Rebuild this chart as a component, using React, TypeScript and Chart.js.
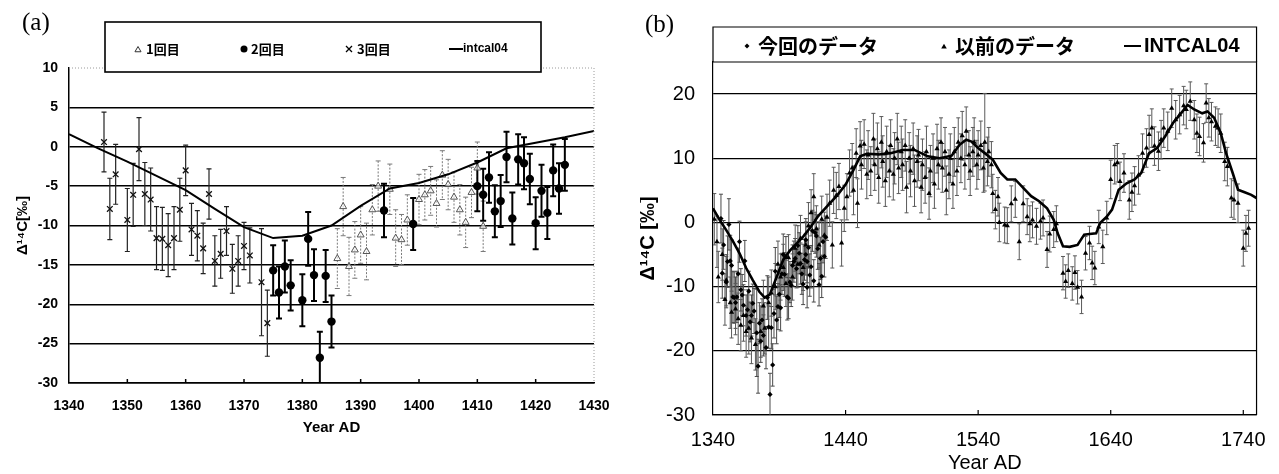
import React, { useEffect, useRef } from "react";
import { Chart, registerables } from "chart.js";

Chart.register(...registerables);

// ---------------- Panel (a) data ----------------
// 1回目 (open triangles)
const yearsA1 = [1386, 1387, 1388, 1389, 1390, 1391, 1392, 1393, 1395, 1396, 1397, 1398, 1400, 1401, 1402, 1403, 1404, 1405, 1406, 1407, 1408, 1409, 1410, 1411];
const valuesA1 = [-14.2, -7.6, -15.2, -13.1, -11.2, -13.3, -8.0, -5.0, -5.4, -11.6, -11.8, -9.3, -6.7, -6.1, -5.6, -7.2, -3.6, -4.8, -6.4, -8.0, -9.6, -5.8, -2.7, -10.1];
const errorsA1 = [3.8, 3.7, 3.7, 3.6, 3.6, 3.6, 3.2, 3.2, 3.2, 3.6, 3.2, 3.2, 3.2, 3.2, 3.1, 3.0, 3.1, 3.2, 3.2, 3.2, 3.2, 3.2, 3.3, 3.2];

// 2回目 (filled circles)
const yearsA2 = [1375, 1376, 1377, 1378, 1380, 1381, 1382, 1383, 1384, 1385, 1394, 1399, 1410, 1411, 1412, 1413, 1414, 1415, 1416, 1417, 1418, 1419, 1420, 1421, 1422, 1423, 1424, 1425];
const valuesA2 = [-15.7, -18.5, -15.2, -17.6, -19.5, -11.7, -16.3, -26.8, -16.4, -22.2, -8.1, -9.8, -5.0, -6.1, -3.9, -8.2, -6.9, -1.3, -9.1, -1.6, -2.1, -4.1, -9.7, -5.6, -8.4, -3.0, -5.3, -2.3];
const errorsA2 = [3.2, 3.3, 3.3, 3.2, 3.3, 3.4, 3.3, 3.3, 3.3, 3.3, 3.4, 3.3, 3.2, 3.3, 3.2, 3.3, 3.3, 3.2, 3.3, 3.2, 3.3, 3.2, 3.3, 3.3, 3.3, 3.3, 3.2, 3.3];

// 3回目 (crosses)
const yearsA3 = [1346, 1347, 1348, 1350, 1351, 1352, 1353, 1354, 1355, 1356, 1357, 1358, 1359, 1360, 1361, 1362, 1363, 1364, 1365, 1366, 1367, 1368, 1369, 1370, 1371, 1373, 1374];
const valuesA3 = [0.6, -7.9, -3.5, -9.3, -6.1, -0.3, -6.0, -6.7, -11.6, -11.7, -12.5, -11.6, -8.0, -3.0, -10.5, -11.3, -12.9, -6.0, -14.5, -13.6, -10.7, -15.5, -14.5, -12.6, -13.8, -17.2, -22.4];
const errorsA3 = [3.8, 3.9, 3.8, 4.0, 4.0, 4.0, 4.0, 4.0, 4.0, 4.0, 4.0, 4.0, 4.0, 3.2, 3.3, 3.2, 3.2, 3.2, 3.2, 3.1, 3.1, 3.1, 3.2, 3.0, 3.5, 6.8, 4.2];

// intcal04 (a)
const intcalYearsA = [1340, 1345, 1350, 1355, 1360, 1365, 1370, 1375, 1380, 1385, 1390, 1395, 1400, 1405, 1410, 1415, 1420, 1425, 1430];
const intcalValuesA = [1.6, -0.2, -1.9, -3.7, -5.5, -7.9, -10.2, -11.6, -11.3, -10.0, -7.5, -5.3, -4.6, -3.5, -2.0, -0.2, 0.5, 1.2, 2.0];

const xTicksA = [1340, 1350, 1360, 1370, 1380, 1390, 1400, 1410, 1420, 1430];
const yTicksA = [-30, -25, -20, -15, -10, -5, 0, 5, 10];

// ---------------- Panel (b) data ----------------
const prevYearsB = [
  1341, 1343, 1344, 1347, 1349, 1350, 1353, 1354, 1357, 1359,
  1361, 1363, 1365, 1367, 1369, 1372, 1376, 1378, 1379, 1382,
  1384, 1387, 1389, 1391, 1393, 1395, 1397, 1400, 1402, 1404,
  1406, 1408, 1410, 1412, 1414, 1416, 1418, 1420, 1422, 1424,
  1426, 1428, 1430, 1431, 1433, 1435, 1437, 1439, 1441, 1443,
  1445, 1446, 1448, 1449, 1451, 1452, 1454, 1456, 1457, 1459,
  1461, 1462, 1464, 1465, 1467, 1468, 1470, 1471, 1473, 1474,
  1476, 1477, 1479, 1480, 1482, 1483, 1485, 1486, 1488, 1489,
  1491, 1492, 1494, 1495, 1497, 1498, 1500, 1501, 1503, 1504,
  1506, 1507, 1509, 1510, 1512, 1513, 1515, 1516, 1518, 1519,
  1521, 1522, 1524, 1525, 1527, 1528, 1530, 1531, 1533, 1534,
  1536, 1537, 1539, 1540, 1542, 1544, 1545, 1547, 1548, 1550,
  1551, 1553, 1555, 1556, 1560, 1562, 1565, 1568, 1571, 1574,
  1577, 1579, 1581, 1584, 1587, 1589, 1592, 1594, 1597, 1599,
  1604, 1606, 1608, 1611, 1613, 1615, 1618, 1621, 1624, 1626,
  1628, 1631, 1634, 1637, 1640, 1643, 1645, 1647, 1650, 1654,
  1656, 1658, 1661, 1664, 1667, 1669, 1671, 1673, 1676, 1678,
  1680, 1683, 1686, 1689, 1692, 1695, 1697, 1700, 1703, 1705,
  1707, 1710, 1712, 1714, 1716, 1719, 1721, 1723, 1726, 1728,
  1731, 1733, 1736, 1740, 1742, 1744,
];
const prevValuesB = [
  0.5, -3.0, -8.5, -5.0, -12.0, -9.0, -12.5, -14.0, -13.5, -15.0,
  -16.0, -14.5, -17.0, -16.5, -18.0, -19.0, -17.0, -13.0, -16.5, -12.5,
  -11.0, -10.0, -6.5, -8.5, -7.0, -9.5, -5.5, -8.5, -4.0, -6.5,
  -2.5, -7.0, -3.5, -0.5, 1.5, 4.0, -1.0, -3.5, 0.5, -2.0,
  0.8, 3.0, -3.5, 5.0, 4.2, 5.6, -3.2, 2.2, 4.0, 7.7,
  8.5, 5.0, 10.8, 3.0, 11.9, 9.0, 12.2, 7.5, 10.5, 8.0,
  13.0, 9.0, 11.5, 7.0, 12.5, 9.5, 6.5, 11.0, 8.0, 12.0,
  7.5, 10.0, 13.0, 8.5, 11.0, 9.0, 12.0, 5.5, 10.0, 8.0,
  11.5, 6.5, 9.5, 10.5, 5.5, 9.0, 7.0, 11.0, 4.5, 8.0,
  10.0, 6.0, 11.5, 9.0, 12.5, 8.5, 11.0, 5.0, 7.5, 10.0,
  6.0, 11.0, 8.0, 12.5, 10.0, 13.5, 9.0, 14.2, 10.5, 8.0,
  11.0, 12.5, 9.0, 10.5, 12.0, 8.5, 12.5, 9.5, 11.0, 9.0,
  4.5, 2.0, 4.0, 0.0, -0.4, -0.5, 2.9, 3.6, -3.0, 2.9,
  0.9, -0.2, 0.4, -0.6, 0.2, 0.7, -4.2, -1.8, -1.1, -0.2,
  -7.9, -9.2, -7.5, -9.5, -7.8, -10.1, -11.6, -4.8, -3.2, -6.3,
  -7.1, -0.7, -3.8, 0.7, 6.7, 9.0, 9.3, 6.4, 7.7, 3.5,
  4.7, 5.7, 7.4, 10.8, 11.6, 13.7, 14.7, 11.9, 11.1, 12.9,
  14.7, 14.2, 17.8, 16.0, 16.8, 18.2, 17.6, 18.9, 16.0, 13.9,
  13.4, 12.4, 18.6, 16.3, 15.7, 15.0, 14.7, 13.9, 9.5, 8.7,
  3.8, 3.5, 3.0, -4.0, -1.7, -0.9,
];
const prevErrorsB = [
  4.0, 4.0, 4.0, 4.0, 4.0, 4.0, 4.0, 4.0, 4.0, 4.0,
  4.0, 4.0, 4.0, 4.0, 4.0, 4.0, 4.0, 4.0, 4.0, 4.0,
  3.6, 3.6, 3.6, 3.6, 3.6, 3.6, 3.6, 3.6, 3.6, 3.6,
  3.6, 3.6, 3.6, 3.6, 3.6, 3.6, 3.6, 3.6, 3.6, 3.6,
  3.6, 3.6, 3.6, 3.6, 3.6, 3.6, 3.6, 3.6, 3.6, 3.6,
  3.8, 3.8, 3.8, 3.8, 3.8, 3.8, 3.8, 3.8, 3.8, 3.8,
  4.0, 4.0, 4.0, 4.0, 4.0, 4.0, 4.0, 4.0, 4.0, 4.0,
  4.0, 4.0, 4.0, 4.0, 4.0, 4.0, 4.0, 4.0, 4.0, 4.0,
  4.0, 4.0, 4.0, 4.0, 4.0, 4.0, 4.0, 4.0, 4.0, 4.0,
  3.8, 3.8, 3.8, 3.8, 3.8, 3.8, 3.8, 3.8, 3.8, 3.8,
  3.8, 3.8, 3.8, 3.8, 3.8, 3.8, 3.8, 3.8, 3.8, 3.8,
  3.8, 3.8, 3.8, 3.8, 3.8, 3.8, 7.6, 3.8, 3.8, 3.6,
  3.0, 3.0, 3.0, 3.0, 2.8, 2.8, 2.8, 2.8, 2.8, 2.8,
  2.8, 2.8, 2.8, 2.8, 2.8, 2.8, 2.8, 2.8, 2.8, 2.8,
  2.6, 2.6, 2.6, 2.6, 2.6, 2.6, 2.6, 2.6, 2.6, 2.6,
  2.6, 2.6, 2.6, 2.6, 3.0, 3.0, 3.0, 3.0, 3.0, 3.0,
  3.0, 3.0, 3.0, 3.0, 3.0, 3.0, 3.0, 3.0, 3.0, 3.0,
  3.0, 3.0, 3.0, 3.0, 3.0, 3.0, 3.0, 3.0, 3.0, 3.0,
  3.0, 3.0, 3.0, 3.0, 3.0, 3.0, 3.0, 3.0, 3.0, 3.0,
  3.0, 3.0, 3.0, 2.8, 2.8, 2.8,
];

// INTCAL04 (b)
const intcalYearsB = [1340, 1345, 1350, 1355, 1360, 1365, 1370, 1375, 1379, 1383, 1388, 1393, 1398, 1403, 1408, 1413, 1419, 1426, 1434, 1440, 1446, 1451, 1456, 1465, 1474, 1483, 1492, 1502, 1511, 1520, 1526, 1531, 1535, 1540, 1545, 1551, 1557, 1562, 1568, 1574, 1580, 1586, 1592, 1597, 1600, 1604, 1609, 1615, 1620, 1624, 1629, 1632, 1637, 1641, 1646, 1652, 1658, 1663, 1669, 1675, 1681, 1687, 1693, 1698, 1703, 1709, 1713, 1718, 1723, 1727, 1732, 1736, 1741, 1746, 1750];
const intcalValuesB = [2.2, 0.4, -1.2, -2.9, -4.8, -7.1, -9.0, -10.8, -11.7, -11.2, -8.5, -5.8, -4.4, -3.3, -2.2, -0.9, 0.9, 2.5, 4.3, 5.9, 8.2, 10.3, 10.7, 10.6, 10.8, 11.3, 11.3, 10.3, 10.0, 10.4, 12.1, 12.9, 12.6, 11.6, 10.8, 9.8, 7.7, 6.7, 6.7, 5.4, 4.1, 3.3, 2.2, 0.4, -1.7, -3.7, -3.8, -3.5, -1.9, -1.8, -1.7, -0.1, 0.9, 2.0, 5.1, 6.1, 6.7, 7.7, 10.8, 11.6, 13.4, 15.5, 17.0, 18.3, 17.6, 17.0, 17.3, 16.3, 13.9, 10.8, 7.7, 5.1, 4.7, 4.3, 3.8];

const xTicksB = [1340, 1440, 1540, 1640, 1740];
const yTicksB = [-30, -20, -10, 0, 10, 20];

// Current data in (b) = all measurements of panel (a)
const curYearsB = [...yearsA3, ...yearsA2, ...yearsA1];
const curValuesB = [...valuesA3, ...valuesA2, ...valuesA1];
const curErrorsB = [...errorsA3, ...errorsA2, ...errorsA1];

const SANS = '"Liberation Sans", Arial, sans-serif';
const JP = '"Noto Sans CJK JP", "Noto Sans", sans-serif';

const pts = (xs: number[], ys: number[]) => xs.map((x, i) => ({ x, y: ys[i] }));
const plain = (v: any) => String(v);

// Error bars drawn through the y scale
const errorBarPlugin = {
  id: "errorBars",
  beforeDatasetsDraw(chart: any) {
    const { ctx, chartArea } = chart;
    const ys = chart.scales.y;
    ctx.save();
    ctx.beginPath();
    ctx.rect(chartArea.left, chartArea.top, chartArea.right - chartArea.left, chartArea.bottom - chartArea.top);
    ctx.clip();
    chart.data.datasets.forEach((ds: any, i: number) => {
      if (!ds.errors) return;
      const meta = chart.getDatasetMeta(i);
      ctx.strokeStyle = ds.errColor;
      ctx.lineWidth = ds.errWidth;
      const cap = ds.errCap;
      meta.data.forEach((el: any, j: number) => {
        const raw = ds.data[j];
        const x = el.x;
        const t = ys.getPixelForValue(raw.y + ds.errors[j]);
        const b = ys.getPixelForValue(raw.y - ds.errors[j]);
        ctx.setLineDash(ds.errDash || []);
        ctx.beginPath();
        ctx.moveTo(x, t);
        ctx.lineTo(x, b);
        ctx.stroke();
        ctx.setLineDash([]);
        ctx.beginPath();
        ctx.moveTo(x - cap, t);
        ctx.lineTo(x + cap, t);
        ctx.moveTo(x - cap, b);
        ctx.lineTo(x + cap, b);
        ctx.stroke();
      });
    });
    ctx.restore();
  },
};

function triPath(ctx: CanvasRenderingContext2D, x: number, y: number, r: number) {
  ctx.beginPath();
  ctx.moveTo(x, y - r);
  ctx.lineTo(x + r * 0.87, y + r * 0.5);
  ctx.lineTo(x - r * 0.87, y + r * 0.5);
  ctx.closePath();
}

const decorA = {
  id: "decorA",
  afterDraw(chart: any) {
    const { ctx, chartArea } = chart;
    const xs = chart.scales.x;
    ctx.save();
    // dotted top and right edges
    ctx.strokeStyle = "#9a9a9a";
    ctx.lineWidth = 1;
    ctx.setLineDash([1, 2]);
    ctx.beginPath();
    ctx.moveTo(chartArea.left, chartArea.top);
    ctx.lineTo(chartArea.right, chartArea.top);
    ctx.moveTo(chartArea.right, chartArea.top);
    ctx.lineTo(chartArea.right, chartArea.bottom);
    ctx.stroke();
    ctx.setLineDash([]);
    // inward ticks on x axis
    ctx.strokeStyle = "#000";
    ctx.lineWidth = 1.5;
    xTicksA.slice(1, -1).forEach((v) => {
      const px = xs.getPixelForValue(v);
      ctx.beginPath();
      ctx.moveTo(px, chartArea.bottom);
      ctx.lineTo(px, chartArea.bottom - 4);
      ctx.stroke();
    });
    // legend box
    ctx.fillStyle = "#fff";
    ctx.fillRect(105, 22, 436, 50);
    ctx.strokeStyle = "#000";
    ctx.lineWidth = 1.6;
    ctx.strokeRect(105, 22, 436, 50);
    const ly = 49;
    ctx.fillStyle = "#000";
    ctx.textBaseline = "middle";
    ctx.font = `bold 13px ${JP}`;
    ctx.lineWidth = 1;
    ctx.strokeStyle = "#333";
    triPath(ctx, 138, ly + 1, 3.5);
    ctx.stroke();
    ctx.fillText("1回目", 146, ly);
    ctx.beginPath();
    ctx.arc(244, ly, 3.5, 0, Math.PI * 2);
    ctx.fill();
    ctx.fillText("2回目", 251, ly);
    ctx.strokeStyle = "#000";
    ctx.lineWidth = 1.3;
    ctx.beginPath();
    ctx.moveTo(346, ly - 3);
    ctx.lineTo(352, ly + 3);
    ctx.moveTo(352, ly - 3);
    ctx.lineTo(346, ly + 3);
    ctx.stroke();
    ctx.fillText("3回目", 357, ly);
    ctx.lineWidth = 2;
    ctx.beginPath();
    ctx.moveTo(449, ly);
    ctx.lineTo(463, ly);
    ctx.stroke();
    ctx.font = `bold 12px ${SANS}`;
    ctx.fillText("intcal04", 463, ly);
    ctx.restore();
  },
};

const decorB = {
  id: "decorB",
  afterDraw(chart: any) {
    const { ctx, chartArea } = chart;
    const xs = chart.scales.x;
    ctx.save();
    ctx.strokeStyle = "#000";
    ctx.lineWidth = 1.2;
    ctx.beginPath();
    ctx.moveTo(chartArea.left, chartArea.top);
    ctx.lineTo(chartArea.right, chartArea.top);
    ctx.lineTo(chartArea.right, chartArea.bottom);
    ctx.stroke();
    xTicksB.slice(1).forEach((v) => {
      const px = xs.getPixelForValue(v);
      ctx.beginPath();
      ctx.moveTo(px, chartArea.bottom);
      ctx.lineTo(px, chartArea.bottom - 5);
      ctx.stroke();
    });
    // legend box above the plot
    ctx.beginPath();
    ctx.moveTo(chartArea.left, chartArea.top);
    ctx.lineTo(chartArea.left, 27);
    ctx.lineTo(chartArea.right, 27);
    ctx.lineTo(chartArea.right, chartArea.top);
    ctx.stroke();
    const ly = 46;
    ctx.fillStyle = "#000";
    ctx.textBaseline = "middle";
    ctx.font = `bold 20px ${JP}`;
    ctx.beginPath();
    ctx.moveTo(107, ly - 2.5);
    ctx.lineTo(109.5, ly);
    ctx.lineTo(107, ly + 2.5);
    ctx.lineTo(104.5, ly);
    ctx.closePath();
    ctx.fill();
    ctx.fillText("今回のデータ", 118, ly);
    triPath(ctx, 304, ly + 1, 3.2);
    ctx.fill();
    ctx.fillText("以前のデータ", 315, ly);
    ctx.lineWidth = 2;
    ctx.beginPath();
    ctx.moveTo(484, ly);
    ctx.lineTo(501, ly);
    ctx.stroke();
    ctx.font = `bold 20px ${SANS}`;
    ctx.fillText("INTCAL04", 504, ly);
    ctx.restore();
  },
};

function ChartA() {
  const ref = useRef<HTMLCanvasElement>(null);
  useEffect(() => {
    const chart = new Chart(ref.current as HTMLCanvasElement, {
      type: "scatter",
      data: {
        datasets: [
          {
            label: "1回目",
            data: pts(yearsA1, valuesA1),
            errors: errorsA1,
            errColor: "#7a7a7a",
            errWidth: 1,
            errDash: [2, 1.5],
            errCap: 2.5,
            pointStyle: "triangle",
            radius: 4,
            borderColor: "#555",
            borderWidth: 1,
            backgroundColor: "rgba(255,255,255,0.6)",
            order: 3,
          } as any,
          {
            label: "2回目",
            data: pts(yearsA2, valuesA2),
            errors: errorsA2,
            errColor: "#000",
            errWidth: 2,
            errCap: 3,
            pointStyle: "circle",
            radius: 4.2,
            borderColor: "#000",
            borderWidth: 0,
            backgroundColor: "#000",
            order: 1,
          } as any,
          {
            label: "3回目",
            data: pts(yearsA3, valuesA3),
            errors: errorsA3,
            errColor: "#222",
            errWidth: 1.2,
            errCap: 2.5,
            pointStyle: "crossRot",
            radius: 4,
            borderColor: "#111",
            borderWidth: 1.3,
            backgroundColor: "#111",
            order: 2,
          } as any,
          {
            label: "intcal04",
            data: pts(intcalYearsA, intcalValuesA),
            showLine: true,
            borderColor: "#000",
            borderWidth: 2,
            pointRadius: 0,
            fill: false,
            order: 0,
          } as any,
        ],
      },
      options: {
        animation: false,
        responsive: false,
        events: [],
        layout: { padding: { left: 0, right: 46, top: 68, bottom: 37 } },
        plugins: { legend: { display: false }, tooltip: { enabled: false } },
        scales: {
          x: {
            type: "linear",
            min: 1340,
            max: 1430,
            afterBuildTicks: (s: any) => {
              s.ticks = xTicksA.map((v) => ({ value: v }));
            },
            afterFit: (s: any) => {
              s.height = 54;
            },
            grid: { drawOnChartArea: false, drawTicks: false },
            border: { display: true, color: "#000", width: 1.5 },
            ticks: { padding: 15, color: "#000", callback: plain, font: { family: SANS, size: 14, weight: "bold" } },
            title: { display: true, text: "Year AD", color: "#000", padding: 0, font: { family: SANS, size: 15, weight: "bold" } },
          },
          y: {
            type: "linear",
            min: -30,
            max: 10,
            afterBuildTicks: (s: any) => {
              s.ticks = yTicksA.map((v) => ({ value: v }));
            },
            afterFit: (s: any) => {
              s.width = 69;
            },
            grid: {
              drawTicks: false,
              lineWidth: 1.5,
              color: (c: any) => (c.tick && c.tick.value === 10 ? "rgba(0,0,0,0)" : "#000"),
            },
            border: { display: true, color: "#000", width: 1.5 },
            ticks: { padding: 11, color: "#000", callback: plain, font: { family: SANS, size: 14, weight: "bold" } },
            title: { display: true, text: "Δ¹⁴C[‰]", color: "#000", padding: { top: 14, bottom: 0 }, font: { family: SANS, size: 15, weight: "bold" } },
          },
        },
      } as any,
      plugins: [errorBarPlugin, decorA],
    });
    return () => chart.destroy();
  }, []);
  return <canvas ref={ref} width={640} height={474} style={{ position: "absolute", left: 0, top: 0, width: 640, height: 474 }} />;
}

function ChartB() {
  const ref = useRef<HTMLCanvasElement>(null);
  useEffect(() => {
    const chart = new Chart(ref.current as HTMLCanvasElement, {
      type: "scatter",
      data: {
        datasets: [
          {
            label: "今回のデータ",
            data: pts(curYearsB, curValuesB),
            errors: curErrorsB,
            errColor: "#4a4a4a",
            errWidth: 1,
            errCap: 2,
            pointStyle: "rectRot",
            radius: 2.6,
            borderWidth: 0,
            backgroundColor: "#000",
            order: 1,
          } as any,
          {
            label: "以前のデータ",
            data: pts(prevYearsB, prevValuesB),
            errors: prevErrorsB,
            errColor: "#5a5a5a",
            errWidth: 1,
            errCap: 2,
            pointStyle: "triangle",
            radius: 3,
            borderWidth: 0,
            backgroundColor: "#000",
            order: 2,
          } as any,
          {
            label: "INTCAL04",
            data: pts(intcalYearsB, intcalValuesB),
            showLine: true,
            borderColor: "#000",
            borderWidth: 2.6,
            pointRadius: 0,
            fill: false,
            order: 0,
          } as any,
        ],
      },
      options: {
        animation: false,
        responsive: false,
        events: [],
        layout: { padding: { left: 0, right: 19, top: 62, bottom: 1 } },
        plugins: { legend: { display: false }, tooltip: { enabled: false } },
        scales: {
          x: {
            type: "linear",
            min: 1340,
            max: 1750,
            afterBuildTicks: (s: any) => {
              s.ticks = xTicksB.map((v) => ({ value: v }));
            },
            afterFit: (s: any) => {
              s.height = 58;
            },
            grid: { drawOnChartArea: false, drawTicks: false },
            border: { display: true, color: "#000", width: 1.2 },
            ticks: { padding: 13, color: "#000", callback: plain, font: { family: SANS, size: 20 } },
            title: { display: true, text: "Year AD", color: "#000", padding: 0, font: { family: SANS, size: 20, lineHeight: 1 } },
          },
          y: {
            type: "linear",
            min: -30,
            max: 25,
            afterBuildTicks: (s: any) => {
              s.ticks = yTicksB.map((v) => ({ value: v }));
            },
            afterFit: (s: any) => {
              s.width = 73;
            },
            grid: { drawTicks: false, lineWidth: 1.2, color: "#000" },
            border: { display: true, color: "#000", width: 1.2 },
            ticks: { padding: 18, color: "#000", callback: plain, font: { family: SANS, size: 20 } },
            title: { display: true, text: "Δ¹⁴C [‰]", color: "#000", padding: 0, font: { family: SANS, size: 20, weight: "bold", lineHeight: 0.85 } },
          },
        },
      } as any,
      plugins: [errorBarPlugin, decorB],
    });
    return () => chart.destroy();
  }, []);
  return <canvas ref={ref} width={639} height={474} style={{ position: "absolute", left: 640, top: 0, width: 639, height: 474 }} />;
}

export default function App() {
  return (
    <div style={{ position: "absolute", left: 0, top: 0, width: 1279, height: 474, background: "#fff", overflow: "hidden" }}>
      <ChartA />
      <ChartB />
      <div style={{ position: "absolute", left: 22, top: 9, fontFamily: '"Liberation Serif", serif', fontSize: 25, lineHeight: "25px", color: "#000" }}>(a)</div>
      <div style={{ position: "absolute", left: 645, top: 11, fontFamily: '"Liberation Serif", serif', fontSize: 25, lineHeight: "25px", color: "#000" }}>(b)</div>
    </div>
  );
}
